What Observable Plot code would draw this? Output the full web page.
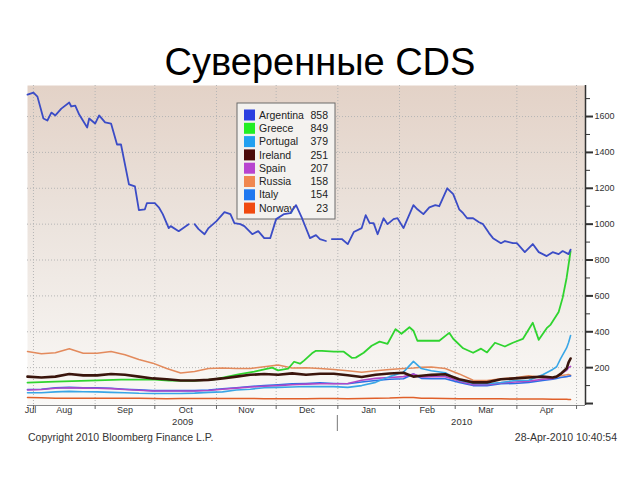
<!DOCTYPE html>
<html><head><meta charset="utf-8">
<script src="https://cdn.jsdelivr.net/npm/d3@7"></script>
<script src="https://cdn.jsdelivr.net/npm/@observablehq/plot@0.6"></script>
<style>
body{margin:0;background:#fff;font-family:"Liberation Sans",Arial,sans-serif;}
#wrap{position:relative;width:640px;height:480px;overflow:hidden;}
#title{position:absolute;left:0;top:43px;width:640px;text-align:center;font-size:38px;line-height:38px;color:#000;}
#chart{position:absolute;left:0;top:80px;}
.foot{position:absolute;top:431px;font-size:10.5px;line-height:12px;color:#333;white-space:nowrap;}
</style></head><body>
<div id="wrap"><div id="title"></div><div id="chart"></div><div class="foot" id="copy" style="left:28px"></div><div class="foot" id="stamp" style="right:23px"></div></div>
<script>
const titleText = "Суверенные CDS";
const copyrightText = "Copyright 2010 Bloomberg Finance L.P.";
const stampText = "28-Apr-2010 10:40:54";

const seriesNames = ["Argentina","Greece","Portugal","Ireland","Spain","Russia","Italy","Norway"];
const lastValues = [858, 849, 379, 251, 207, 158, 154, 23];

const gridDates = ["2009-07-29","2009-08-05","2009-08-12","2009-08-19","2009-08-26","2009-09-02","2009-09-09","2009-09-16","2009-09-23","2009-09-30",
 "2009-10-07","2009-10-14","2009-10-21","2009-10-28","2009-11-04","2009-11-11","2009-11-18","2009-11-25","2009-12-02","2009-12-09",
 "2009-12-16","2009-12-23","2009-12-30","2010-01-06","2010-01-13","2010-01-20","2010-01-27","2010-02-03","2010-02-08","2010-02-12",
 "2010-02-17","2010-02-24","2010-03-03","2010-03-10","2010-03-17","2010-03-24","2010-03-31","2010-04-07","2010-04-14","2010-04-19",
 "2010-04-21","2010-04-23","2010-04-26","2010-04-27","2010-04-28"];
const portugal = [60,60,65,68,66,65,62,60,57,56, 56,56,58,62,65,75,80,88,90,92, 95,94,94,90,100,118,150,175,235,195, 183,172,130,112,110,117,128,130,160,190, 205,250,310,340,379];
const ireland = [150,145,150,165,157,157,165,160,150,140, 135,128,128,132,140,150,160,165,160,168, 160,166,166,158,148,160,167,172,150,155, 160,163,135,118,118,135,140,145,150,145, 150,165,195,230,251];
const spain = [75,78,85,88,86,85,83,78,74,70, 70,70,70,73,80,86,92,96,100,105, 108,110,110,112,130,140,145,150,165,148, 150,150,125,105,105,115,120,125,135,140, 150,165,185,200,207];
const russia = [290,278,283,305,280,280,290,272,245,225, 195,170,178,195,198,195,195,205,215,198, 200,195,190,183,175,183,190,195,198,202, 203,195,165,130,128,138,144,155,145,142, 150,155,160,162,158];
const italy = [78,80,88,90,88,88,85,80,76,72, 72,72,72,75,82,88,95,100,105,110, 112,115,112,110,120,128,135,138,165,140, 138,138,118,100,100,110,112,118,128,135, 140,145,150,152,154];
const norway = [33,32,30,30,30,29,30,30,29,28, 27,28,28,28,28,28,28,27,27,27, 27,28,28,27,28,30,31,34,33,30, 29,28,27,27,26,26,25,25,25,24, 24,24,24,23,23];

const argentinaDates = ["2009-07-29","2009-08-01","2009-08-03","2009-08-06","2009-08-08","2009-08-10","2009-08-12","2009-08-15","2009-08-19","2009-08-20",
 "2009-08-22","2009-08-24","2009-08-28","2009-08-29","2009-09-01","2009-09-03","2009-09-06","2009-09-09","2009-09-12","2009-09-14",
 "2009-09-18","2009-09-21","2009-09-23","2009-09-26","2009-09-27","2009-10-01","2009-10-03","2009-10-05","2009-10-08","2009-10-09",
 "2009-10-13","2009-10-18","2009-10-20","2009-10-21","2009-10-23","2009-10-26","2009-10-28","2009-11-01","2009-11-05","2009-11-08",
 "2009-11-10","2009-11-13","2009-11-15","2009-11-19","2009-11-22","2009-11-25","2009-11-28","2009-12-01","2009-12-05","2009-12-08",
 "2009-12-11","2009-12-14","2009-12-18","2009-12-21","2009-12-23","2009-12-26","2009-12-28","2009-12-29","2010-01-03","2010-01-06",
 "2010-01-09","2010-01-13","2010-01-15","2010-01-17","2010-01-19","2010-01-21","2010-01-24","2010-01-26","2010-01-29","2010-01-31",
 "2010-02-03","2010-02-08","2010-02-10","2010-02-13","2010-02-16","2010-02-19","2010-02-21","2010-02-25","2010-02-28","2010-03-03",
 "2010-03-05","2010-03-07","2010-03-10","2010-03-13","2010-03-15","2010-03-18","2010-03-20","2010-03-24","2010-03-26","2010-03-30",
 "2010-04-01","2010-04-05","2010-04-09","2010-04-12","2010-04-16","2010-04-19","2010-04-22","2010-04-24","2010-04-27","2010-04-28"];
const argentinaValues = [1722,1733,1711,1589,1578,1622,1606,1644,1678,1656,
 1661,1611,1539,1589,1561,1606,1567,1561,1444,1444,
 1222,1211,1078,1083,1117,1117,1094,1056,978,989,
 961,1000,null,1000,972,944,978,1017,1067,1056,
 1006,1000,989,944,961,922,922,1028,1056,1061,
 1106,1033,922,939,917,906,null,917,917,889,
 956,978,1050,1006,1006,944,1033,1000,1028,1033,
 978,1106,1083,1056,1094,1106,1100,1200,1167,1083,
 1061,1033,1033,1011,1000,950,922,894,906,894,
 894,844,889,844,822,844,833,850,833,858];

const greeceDates = ["2009-07-29","2009-08-12","2009-08-29","2009-09-14","2009-10-01","2009-10-08","2009-10-20","2009-10-31","2009-11-12","2009-11-20",
 "2009-11-29","2009-12-02","2009-12-07","2009-12-10","2009-12-13","2009-12-15","2009-12-19","2009-12-21","2009-12-24","2009-12-30",
 "2010-01-04","2010-01-08","2010-01-10","2010-01-14","2010-01-18","2010-01-22","2010-01-26","2010-01-30","2010-02-02","2010-02-06",
 "2010-02-08","2010-02-10","2010-02-16","2010-02-21","2010-02-26","2010-02-28","2010-03-05","2010-03-10","2010-03-14","2010-03-17",
 "2010-03-21","2010-03-26","2010-03-30","2010-04-04","2010-04-09","2010-04-12","2010-04-16","2010-04-18","2010-04-22","2010-04-24",
 "2010-04-26","2010-04-28"];
const greeceValues = [117,122,128,133,133,128,127,135,162,178,
 200,185,194,233,222,239,280,294,294,289,
 289,255,256,283,322,345,333,415,389,425,
 406,350,350,350,394,361,308,283,306,285,
 339,318,339,360,450,355,420,440,510,589,
 700,849];

const monthStarts = ["2009-08-01","2009-09-01","2009-10-01","2009-11-01","2009-12-01","2010-01-01","2010-02-01","2010-03-01","2010-04-01","2010-05-01"];
const monthLabels = ["Jul","Aug","Sep","Oct","Nov","Dec","Jan","Feb","Mar","Apr"];
const yearLabels = ["2009","2010"];
const yearStart = "2010-01-01";
const yMajor = [0,200,400,600,800,1000,1200,1400,1600];
const yMinor = [100,300,500,700,900,1100,1300,1500,1700];
const xDomain = ["2009-07-29T00:00Z","2010-05-05T12:00Z"];
const yDomain = [-11, 1773];

// styles (kept apart from data)
const lineStyle = {
  Argentina: {stroke: "#3b4cc6", width: 1.8},
  Greece:    {stroke: "#2fd42f", width: 1.8},
  Portugal:  {stroke: "#39a6e6", width: 1.6},
  Ireland:   {stroke: "#3a150c", width: 2.6},
  Spain:     {stroke: "#b048c8", width: 1.6},
  Russia:    {stroke: "#e38a5c", width: 1.5},
  Italy:     {stroke: "#2d6ee6", width: 1.6},
  Norway:    {stroke: "#e0602a", width: 1.5}
};
const legendSwatch = {
  Argentina: "#2b3fe0", Greece: "#22ee22", Portugal: "#22a0f0", Ireland: "#4a0a0a",
  Spain: "#b844d0", Russia: "#f08850", Italy: "#1f78f0", Norway: "#f04a10"
};
const drawOrder = ["Norway","Russia","Italy","Spain","Portugal","Greece","Ireland","Argentina"];

const toDate = s => new Date(s.length === 10 ? s + "T00:00Z" : s);
function rows(name, dates, vals) {
  return dates.map((d, i) => ({name, date: toDate(d), value: vals[i]}));
}
const seriesData = {
  Argentina: rows("Argentina", argentinaDates, argentinaValues),
  Greece: rows("Greece", greeceDates, greeceValues),
  Portugal: rows("Portugal", gridDates, portugal),
  Ireland: rows("Ireland", gridDates, ireland),
  Spain: rows("Spain", gridDates, spain),
  Russia: rows("Russia", gridDates, russia),
  Italy: rows("Italy", gridDates, italy),
  Norway: rows("Norway", gridDates, norway)
};

const xd = xDomain.map(toDate);
const ms = monthStarts.map(toDate);
const monthLabelData = monthLabels.map((label, i) => {
  const a = i === 0 ? xd[0] : ms[i - 1];
  const b = ms[i];
  return {label, date: new Date((+a + +b) / 2)};
});
const ys = toDate(yearStart);
const yearLabelData = [
  {label: yearLabels[0], date: new Date((+xd[0] + +ys) / 2)},
  {label: yearLabels[1], date: new Date((+ys + +xd[1]) / 2)}
];

document.getElementById("title").textContent = titleText;
document.getElementById("copy").textContent = copyrightText;
document.getElementById("stamp").textContent = stampText;

const plot = Plot.plot({
  width: 640, height: 370,
  marginTop: 5, marginBottom: 45, marginLeft: 27, marginRight: 55,
  style: {fontFamily: "'Liberation Sans', Arial, sans-serif", background: "transparent", overflow: "visible"},
  x: {type: "utc", domain: xd},
  y: {domain: yDomain},
  marks: [
    Plot.frame({fill: "url(#bgGrad)", stroke: null}),
    Plot.ruleY(yMajor.filter(v => v > 0), {stroke: "#b5b5b5", strokeDasharray: "1,2"}),
    Plot.ruleX(ms, {stroke: "#b5b5b5", strokeDasharray: "1,2"}),
    Plot.ruleY([yDomain[0]], {stroke: "#888"}),
    Plot.ruleX([xd[1]], {stroke: "#333", strokeWidth: 1.5}),
    Plot.axisY({anchor: "right", ticks: yMajor, tickSize: 7, tickPadding: 2, strokeWidth: 2,
      tickFormat: d => d === 0 ? "" : String(d), fontSize: 9, color: "#333", label: null}),
    Plot.axisY({anchor: "right", ticks: yMinor, tickSize: 4, tickFormat: () => "", color: "#333", label: null}),
    Plot.axisX({ticks: ms, tickSize: 4, tickFormat: () => "", color: "#666", label: null}),
    Plot.text(monthLabelData, {x: "date", text: "label", frameAnchor: "bottom", dy: 7, fontSize: 9, fill: "#333"}),
    Plot.text(yearLabelData, {x: "date", text: "label", frameAnchor: "bottom", dy: 19, fontSize: 9.5, fill: "#333"}),
    ...drawOrder.map(name => Plot.line(seriesData[name], {
      x: "date", y: "value", stroke: lineStyle[name].stroke, strokeWidth: lineStyle[name].width
    }))
  ]
});

// gradient background
const svg = d3.select(plot);
const grad = svg.insert("defs", ":first-child").append("linearGradient")
  .attr("id", "bgGrad").attr("x1", 0).attr("y1", 0).attr("x2", 0).attr("y2", 1);
grad.append("stop").attr("offset", "0%").attr("stop-color", "#e3d2c7");
grad.append("stop").attr("offset", "45%").attr("stop-color", "#ece4de");
grad.append("stop").attr("offset", "100%").attr("stop-color", "#faf9f7");

// year separator below the axis
const sx = plot.scale("x");
const xSep = sx.apply(ys);
svg.append("line").attr("x1", xSep).attr("x2", xSep).attr("y1", 335).attr("y2", 351)
  .attr("stroke", "#777").attr("stroke-width", 1);

// legend box, drawn beneath the Argentina line (last line group)
const lineGroups = plot.querySelectorAll('g[aria-label="line"]');
const argG = lineGroups[lineGroups.length - 1];
const legNode = document.createElementNS("http://www.w3.org/2000/svg", "g");
plot.insertBefore(legNode, argG);
const leg = d3.select(legNode).attr("transform", "translate(237,23)").attr("text-anchor", "start");
leg.append("rect").attr("x", 0).attr("y", 0).attr("width", 98).attr("height", 116)
  .attr("fill", "#f4f2ef").attr("stroke", "#6b6b6b").attr("stroke-width", 1);
seriesNames.forEach((name, i) => {
  const cy = 12 + i * 13.3;
  leg.append("rect").attr("x", 7).attr("y", cy - 5.5).attr("width", 11).attr("height", 11)
    .attr("fill", legendSwatch[name]);
  leg.append("text").attr("x", 22).attr("y", cy).attr("dy", "0.35em").attr("text-anchor", "start")
    .attr("font-size", 10.5).attr("fill", "#222").text(name);
  leg.append("text").attr("x", 91).attr("y", cy).attr("dy", "0.35em").attr("text-anchor", "end")
    .attr("font-size", 10.5).attr("fill", "#222").text(lastValues[i]);
});

document.getElementById("chart").appendChild(plot);
</script>
</body></html>
